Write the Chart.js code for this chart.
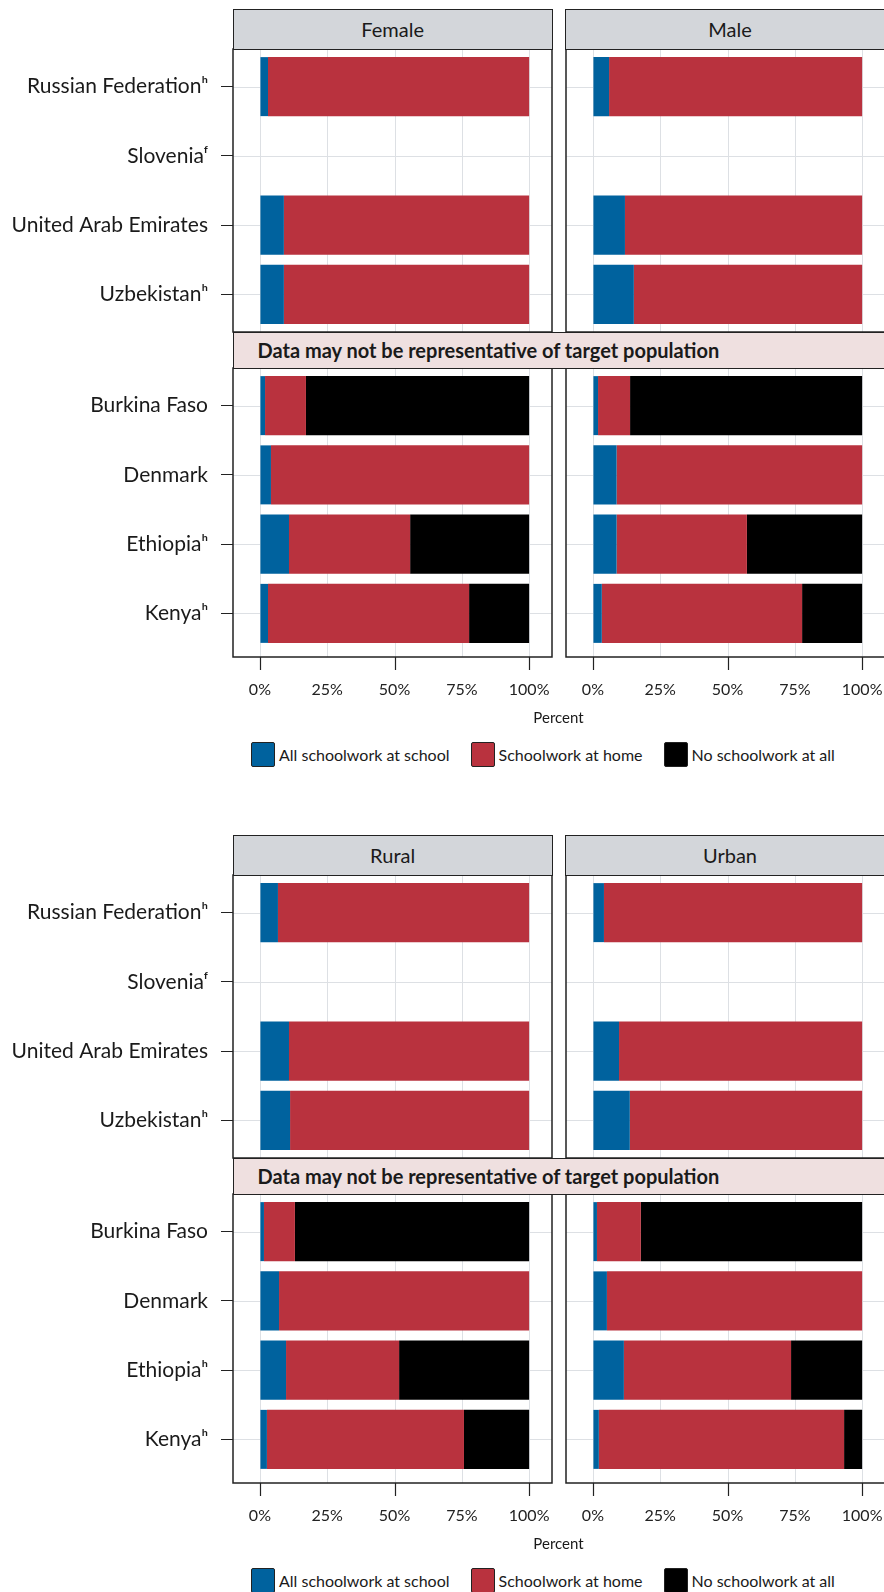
<!DOCTYPE html>
<html>
<head>
<meta charset="utf-8">
<title>Where schoolwork was done during closures</title>
<script src="https://cdn.jsdelivr.net/npm/chart.js@4.4.1/dist/chart.umd.min.js"></script>
<style>
  html, body { margin: 0; padding: 0; background: #fff; }
  body { position: relative; width: 884px; height: 1592px; overflow: hidden; font-family: Lato, "Noto Sans", sans-serif; color: #1a1a1a; }
  canvas, .strip, .banner, .axis-title, .legend { position: absolute; }
  .strip { box-sizing: border-box; background: #d3d6da; border: 1.5px solid #222; font-size: 20px; text-align: center; line-height: 38px; }
  .banner { box-sizing: border-box; background: #efe0e0; border: 1.5px solid #222; font-size: 20px; font-weight: bold; line-height: 34px; padding-left: 24px; white-space: nowrap; }
  .axis-title { font-size: 15px; text-align: center; width: 200px; line-height: 18px; }
  .legend { display: flex; align-items: center; font-size: 16px; height: 25px; white-space: nowrap; }
  .legend .key { width: 24px; height: 25px; box-sizing: border-box; border: 1.5px solid #222; border-radius: 2px; }
  .legend .name { margin-left: 4px; margin-right: 21px; }
</style>
</head>
<body>
<script>
// Countries in each block, top to bottom
const upperCountries = ['Russian Federation\u02B0', 'Slovenia\u1DA0', 'United Arab Emirates', 'Uzbekistan\u02B0'];
const lowerCountries = ['Burkina Faso', 'Denmark', 'Ethiopia\u02B0', 'Kenya\u02B0'];

const seriesNames = ['All schoolwork at school', 'Schoolwork at home', 'No schoolwork at all'];
const seriesColors = ['#00629e', '#b9323e', '#000000'];

const xTicks = [0, 25, 50, 75, 100];

// Percent per country: [at school, at home, none]; null = no data
const femaleUpper = [[3.0, 97.0, 0], null, [8.9, 91.1, 0], [8.9, 91.1, 0]];
const femaleLower = [[1.9, 15.2, 82.9], [4.1, 95.9, 0], [10.8, 45.0, 44.2], [3.0, 74.7, 22.3]];
const maleUpper = [[6.0, 94.0, 0], null, [11.9, 88.1, 0], [15.2, 84.8, 0]];
const maleLower = [[1.9, 11.9, 86.2], [8.8, 91.2, 0], [8.8, 48.4, 42.8], [3.3, 74.4, 22.3]];
const ruralUpper = [[6.7, 93.3, 0], null, [10.8, 89.2, 0], [11.2, 88.8, 0]];
const ruralLower = [[1.5, 11.5, 87.0], [7.1, 92.9, 0], [9.7, 42.0, 48.3], [2.6, 73.2, 24.2]];
const urbanUpper = [[4.1, 95.9, 0], null, [9.7, 90.3, 0], [13.7, 86.3, 0]];
const urbanLower = [[1.5, 16.3, 82.2], [5.2, 94.8, 0], [11.5, 62.1, 26.4], [2.2, 91.1, 6.7]];

const figures = [
  { top: 0, facets: ['Female', 'Male'], upper: [femaleUpper, maleUpper], lower: [femaleLower, maleLower] },
  { top: 826, facets: ['Rural', 'Urban'], upper: [ruralUpper, urbanUpper], lower: [ruralLower, urbanLower] }
];

Chart.defaults.font.family = 'Lato, "Noto Sans", sans-serif';
Chart.defaults.color = '#1a1a1a';

const PAD_V = 30;   // room above/below the plot area inside each canvas
const PAD_H = 12;
const GRID = '#dde0e4';
const INK = '#222';

// panel columns: left one carries the country labels
const columns = [
  { areaLeft: 233, areaRight: 552, stripLeft: 232.5, stripWidth: 320.3 },
  { areaLeft: 566, areaRight: 885, stripLeft: 565, stripWidth: 330 }
];
// row blocks: plot area top/height, and how far the panel frame reaches past it
const blocks = {
  upper: { top: 52, height: 277, extTop: 3, extBottom: 3 },
  lower: { top: 371, height: 277, extTop: 3, extBottom: 9 }
};

// grid, frame and outer x tick marks of a ggplot-like panel
const panelFrame = {
  id: 'panelFrame',
  defaults: { extTop: 0, extBottom: 0, axisTicks: false },
  beforeDatasetsDraw(chart, args, opts) {
    const { ctx, chartArea: a, scales: { x, y } } = chart;
    const top = a.top - opts.extTop;
    const bottom = a.bottom + opts.extBottom;
    ctx.save();
    ctx.strokeStyle = GRID;
    ctx.lineWidth = 1;
    ctx.beginPath();
    x.ticks.forEach(t => {
      const px = Math.round(x.getPixelForValue(t.value)) + 0.5;
      ctx.moveTo(px, top);
      ctx.lineTo(px, bottom);
    });
    y.ticks.forEach((t, i) => {
      const py = Math.round(y.getPixelForTick(i)) + 0.5;
      ctx.moveTo(a.left, py);
      ctx.lineTo(a.right, py);
    });
    ctx.stroke();
    ctx.restore();
  },
  afterDraw(chart, args, opts) {
    const { ctx, chartArea: a, scales: { x } } = chart;
    const top = a.top - opts.extTop;
    const bottom = a.bottom + opts.extBottom;
    ctx.save();
    ctx.strokeStyle = INK;
    ctx.lineWidth = 1.5;
    ctx.strokeRect(a.left, top, a.right - a.left, bottom - top);
    if (opts.axisTicks) {
      ctx.lineWidth = 1.2;
      ctx.beginPath();
      x.ticks.filter(t => t.value % 50 === 0).forEach(t => {
        const px = Math.round(x.getPixelForValue(t.value)) + 0.5;
        ctx.moveTo(px, bottom);
        ctx.lineTo(px, bottom + 13);
      });
      ctx.stroke();
    }
    ctx.restore();
  }
};

function addDiv(cls, text, css) {
  const el = document.createElement('div');
  el.className = cls;
  el.textContent = text;
  Object.assign(el.style, css);
  document.body.appendChild(el);
  return el;
}

function addPanel(figTop, col, block, countries, rows, showY, showX) {
  const axisHeight = showX ? 60 : 0;
  const canvasLeft = showY ? 0 : col.areaLeft - PAD_H;
  const canvas = document.createElement('canvas');
  canvas.width = col.areaRight + PAD_H - canvasLeft;
  canvas.height = block.height + axisHeight + 2 * PAD_V;
  canvas.style.left = canvasLeft + 'px';
  canvas.style.top = (figTop + block.top - PAD_V) + 'px';
  document.body.appendChild(canvas);

  const datasets = seriesNames.map((name, s) => ({
    label: name,
    backgroundColor: seriesColors[s],
    borderWidth: 0,
    barPercentage: 0.852,
    categoryPercentage: 1,
    data: rows.map(r => (r ? r[s] : null))
  }));

  return new Chart(canvas, {
    type: 'bar',
    data: { labels: countries, datasets },
    options: {
      indexAxis: 'y',
      responsive: false,
      animation: false,
      layout: { padding: { left: showY ? 0 : PAD_H, right: PAD_H, top: PAD_V, bottom: PAD_V } },
      plugins: {
        legend: { display: false },
        tooltip: { enabled: false },
        panelFrame: { extTop: block.extTop, extBottom: block.extBottom, axisTicks: showX }
      },
      scales: {
        x: {
          type: 'linear',
          stacked: true,
          min: -10,
          max: 108.5,
          bounds: 'data',
          afterBuildTicks: axis => { axis.ticks = xTicks.map(v => ({ value: v })); },
          afterFit: axis => { axis.height = axisHeight; },
          border: { display: false },
          // outer tick marks come from panelFrame; these only space the labels
          grid: { drawOnChartArea: false, drawTicks: showX, tickLength: 20, tickColor: 'rgba(0,0,0,0)' },
          ticks: {
            display: showX,
            autoSkip: false,
            maxRotation: 0,
            padding: 12,
            color: INK,
            font: { size: 16 },
            callback: v => v + '%'
          }
        },
        y: {
          type: 'category',
          stacked: true,
          offset: true,
          afterFit: axis => { axis.width = showY ? col.areaLeft : 0; },
          border: { display: false },
          grid: {
            offset: false,
            drawOnChartArea: false,
            drawTicks: showY,
            tickLength: 12,
            color: INK,
            tickColor: INK
          },
          ticks: {
            display: showY,
            padding: 13,
            color: '#1a1a1a',
            font: { size: 21 }
          }
        }
      }
    },
    plugins: [panelFrame]
  });
}

figures.forEach(fig => {
  columns.forEach((col, c) => {
    addPanel(fig.top, col, blocks.upper, upperCountries, fig.upper[c], c === 0, false);
    addPanel(fig.top, col, blocks.lower, lowerCountries, fig.lower[c], c === 0, true);
  });
  columns.forEach((col, c) => {
    addDiv('strip', fig.facets[c], {
      left: col.stripLeft + 'px', top: (fig.top + 8.5) + 'px',
      width: col.stripWidth + 'px', height: '41.3px'
    });
  });
  addDiv('banner', 'Data may not be representative of target population', {
    left: '232.5px', top: (fig.top + 331.5) + 'px', width: '660px', height: '37.6px'
  });
  addDiv('axis-title', 'Percent', { left: '458.5px', top: (fig.top + 708) + 'px' });

  const legend = addDiv('legend', '', { left: '251px', top: (fig.top + 742) + 'px' });
  seriesNames.forEach((name, s) => {
    const key = document.createElement('span');
    key.className = 'key';
    key.style.background = seriesColors[s];
    const label = document.createElement('span');
    label.className = 'name';
    label.textContent = name;
    legend.appendChild(key);
    legend.appendChild(label);
  });
});
</script>
</body>
</html>
